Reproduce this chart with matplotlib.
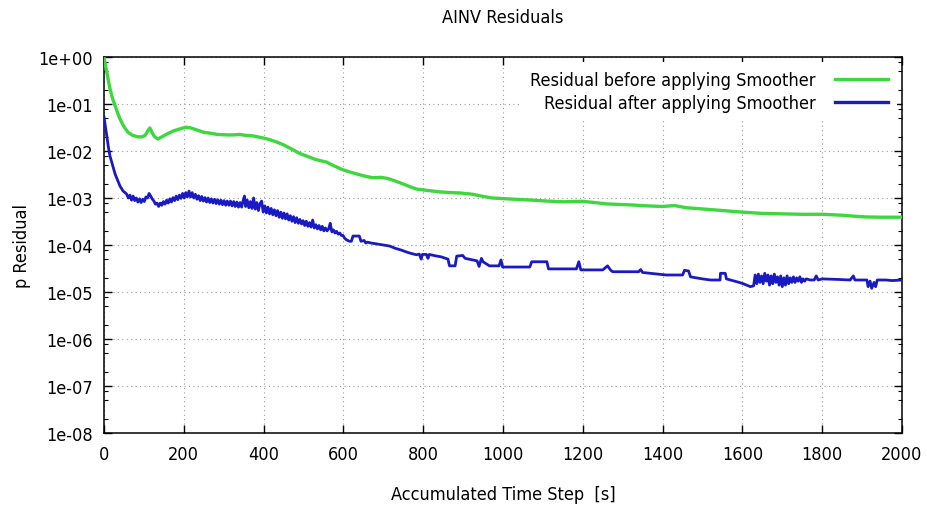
import matplotlib
matplotlib.use("Agg")
import matplotlib.pyplot as plt
import matplotlib.font_manager as fm
from matplotlib.ticker import LogLocator, MultipleLocator, NullFormatter, FuncFormatter

# ---------------- data ----------------
green_t = [0, 3, 7, 11, 15, 21, 28, 34, 40, 50, 60, 72, 85, 95, 103, 110, 115, 120,
           127, 135, 145, 158, 175, 190, 205, 215, 233, 250, 265, 285, 308, 325, 340,
           355, 373, 398, 415, 433, 450, 466, 490, 508, 530, 558, 575, 595, 615, 636,
           655, 674, 695, 711, 730, 749, 766, 783, 810, 841, 870, 891, 924, 950, 974,
           1010, 1040, 1074, 1110, 1150, 1175, 1199, 1230, 1259, 1290, 1325, 1360, 1400,
           1430, 1460, 1494, 1540, 1600, 1650, 1700, 1750, 1800, 1850, 1880, 1910, 1950,
           2000]
green_res = [9.5e-1, 7.0e-1, 4.8e-1, 3.1e-1, 2.1e-1, 1.35e-1, 9.1e-2, 6.5e-2, 4.8e-2,
             3.3e-2, 2.5e-2, 2.15e-2, 2.0e-2, 2.0e-2, 2.15e-2, 2.7e-2, 3.1e-2, 2.5e-2,
             2.0e-2, 1.8e-2, 2.0e-2, 2.3e-2, 2.7e-2, 2.95e-2, 3.2e-2, 3.15e-2, 2.8e-2,
             2.5e-2, 2.4e-2, 2.25e-2, 2.2e-2, 2.2e-2, 2.25e-2, 2.15e-2, 2.1e-2, 1.9e-2,
             1.75e-2, 1.55e-2, 1.35e-2, 1.15e-2, 8.9e-3, 7.8e-3, 6.6e-3, 5.8e-3, 4.9e-3,
             4.1e-3, 3.6e-3, 3.2e-3, 2.9e-3, 2.7e-3, 2.75e-3, 2.6e-3, 2.3e-3, 2.0e-3,
             1.75e-3, 1.55e-3, 1.45e-3, 1.35e-3, 1.3e-3, 1.28e-3, 1.2e-3, 1.08e-3, 1.0e-3,
             9.6e-4, 9.3e-4, 9.0e-4, 8.6e-4, 8.3e-4, 8.4e-4, 8.5e-4, 8.0e-4, 7.5e-4,
             7.3e-4, 7.1e-4, 6.8e-4, 6.6e-4, 6.9e-4, 6.2e-4, 5.9e-4, 5.5e-4, 5.0e-4,
             4.7e-4, 4.6e-4, 4.5e-4, 4.5e-4, 4.3e-4, 4.1e-4, 3.95e-4, 3.9e-4, 3.9e-4]

blue_t = [0, 3, 7, 11, 15, 20, 28, 34, 40, 48, 53,
          57, 61, 65, 69, 73, 77, 81, 85, 89, 93, 97, 101, 105, 109, 113, 117, 121,
          125, 129, 133, 137, 141, 145, 149, 153, 157, 161, 165, 169, 173, 177, 181,
          185, 189, 193, 197, 201, 205, 209, 213, 217, 221, 225, 229, 233, 237, 241,
          245, 249, 253, 257, 261, 265, 269, 273, 277, 281, 285, 289, 293, 297, 301,
          305, 309, 313, 317, 321, 325, 329, 333, 337, 341, 345, 349, 352, 355, 359,
          363, 367, 371, 375, 379, 383, 387, 391, 395, 399, 403, 407, 411, 415, 419,
          423, 427, 431, 435, 439, 443, 447, 451, 455, 459, 463, 467, 471, 475, 479,
          483, 487, 491, 495, 499, 503, 507, 511, 515, 519, 523, 527, 531, 535, 539,
          543, 547, 551, 555, 559, 563, 567, 571, 575, 579, 583, 587, 591, 595, 599,
          603, 607, 611, 615, 620, 624, 640, 644, 652, 656, 660, 670, 684, 700, 716,
          730, 745, 758, 770, 783, 790, 795, 798, 808, 812, 815, 830,
          845, 862, 866, 880, 884, 899, 905, 925, 935, 940, 946, 950, 966, 990, 995,
          999, 1067, 1072, 1110, 1114, 1184, 1190, 1195, 1250, 1262, 1270, 1275, 1340,
          1345, 1350, 1409, 1450, 1455, 1465, 1470, 1500, 1520, 1544, 1545, 1557, 1560,
          1592, 1602, 1620, 1628, 1632, 1636, 1640, 1644, 1648, 1652, 1656, 1660, 1664,
          1668, 1672, 1676, 1680, 1684, 1688, 1692, 1696, 1700, 1704, 1708, 1712, 1716,
          1720, 1724, 1728, 1732, 1736, 1740, 1744, 1748, 1752, 1756, 1760, 1770, 1780,
          1785, 1790, 1800, 1840, 1870, 1878, 1882, 1912, 1915, 1920, 1924, 1930, 1934,
          1938, 1960, 1975, 2000]
blue_res = [5.3e-2, 3.5e-2, 2.1e-2, 1.2e-2, 7.8e-3, 5.5e-3, 3.2e-3, 2.4e-3, 1.8e-3,
            1.4e-3, 1.3e-3,
            1.2e-3, 1.0e-3, 1.15e-3, 9.0e-4, 1.1e-3, 8.8e-4, 1.0e-3, 8.2e-4, 9.6e-4,
            8.0e-4, 9.4e-4, 8.4e-4, 1.05e-3, 1.0e-3, 1.25e-3, 1.1e-3, 9.5e-4, 8.6e-4,
            7.4e-4, 7.8e-4, 6.6e-4, 7.8e-4, 7.0e-4, 8.4e-4, 7.4e-4, 9.0e-4, 7.8e-4,
            9.6e-4, 8.2e-4, 1.02e-3, 8.8e-4, 1.1e-3, 9.2e-4, 1.15e-3, 9.8e-4, 1.25e-3,
            1.0e-3, 1.3e-3, 1.05e-3, 1.4e-3, 1.05e-3, 1.3e-3, 1.0e-3, 1.2e-3, 9.4e-4,
            1.12e-3, 8.8e-4, 1.08e-3, 8.6e-4, 1.02e-3, 8.2e-4, 1.0e-3, 8.0e-4, 9.6e-4,
            7.8e-4, 9.4e-4, 7.6e-4, 9.2e-4, 7.4e-4, 9.0e-4, 7.2e-4, 8.8e-4, 7.0e-4,
            8.6e-4, 7.0e-4, 8.6e-4, 6.8e-4, 8.4e-4, 6.6e-4, 8.2e-4, 6.4e-4, 8.0e-4,
            6.4e-4, 9.0e-4, 1.1e-3, 6.6e-4, 9.0e-4, 6.2e-4, 8.4e-4, 6.0e-4, 1.0e-3,
            5.8e-4, 8.0e-4, 5.4e-4, 7.6e-4, 8.6e-4, 5.0e-4, 6.8e-4, 4.8e-4, 6.4e-4,
            4.6e-4, 6.0e-4, 4.4e-4, 5.6e-4, 4.2e-4, 5.4e-4, 3.9e-4, 5.0e-4, 3.7e-4,
            4.8e-4, 3.6e-4, 4.6e-4, 3.4e-4, 4.2e-4, 3.2e-4, 4.0e-4, 3.0e-4, 3.8e-4,
            2.9e-4, 3.5e-4, 2.8e-4, 3.3e-4, 2.6e-4, 3.2e-4, 2.5e-4, 3.0e-4, 2.4e-4,
            3.4e-4, 2.3e-4, 2.7e-4, 2.2e-4, 2.6e-4, 2.1e-4, 2.5e-4, 2.0e-4, 2.3e-4,
            2.0e-4, 2.2e-4, 2.9e-4, 1.9e-4, 2.1e-4, 1.8e-4, 1.95e-4, 1.7e-4, 1.8e-4,
            1.6e-4, 1.6e-4, 1.4e-4, 1.3e-4, 1.25e-4, 1.2e-4, 1.2e-4, 1.55e-4, 1.55e-4,
            1.2e-4, 1.25e-4, 1.1e-4, 1.15e-4, 1.1e-4, 1.05e-4, 1.0e-4, 9.5e-5,
            8.5e-5, 7.8e-5, 7.1e-5, 6.6e-5, 6.2e-5, 6.4e-5, 5.0e-5, 6.3e-5,
            6.3e-5, 5.2e-5, 6.3e-5, 5.9e-5, 5.6e-5, 5.0e-5, 3.6e-5, 3.6e-5, 5.8e-5,
            6.0e-5, 5.2e-5, 4.8e-5, 4.6e-5, 3.5e-5, 5.2e-5, 4.4e-5, 3.6e-5, 3.6e-5,
            4.8e-5, 3.4e-5, 3.4e-5, 4.4e-5, 4.4e-5, 3.1e-5, 3.1e-5, 4.4e-5, 2.95e-5,
            2.95e-5, 3.6e-5, 2.9e-5, 2.7e-5, 2.7e-5, 3.0e-5, 2.6e-5, 2.3e-5, 2.3e-5,
            2.9e-5, 2.8e-5, 2.1e-5, 1.9e-5, 1.8e-5, 1.8e-5, 2.5e-5, 2.5e-5, 1.9e-5,
            1.6e-5, 1.5e-5, 1.3e-5, 1.35e-5, 2.3e-5, 1.5e-5, 2.4e-5, 1.6e-5, 2.2e-5,
            1.5e-5, 2.5e-5, 1.7e-5, 2.3e-5, 1.4e-5, 2.2e-5, 1.5e-5, 2.4e-5, 1.6e-5,
            2.1e-5, 1.4e-5, 2.2e-5, 1.3e-5, 2.0e-5, 1.4e-5, 2.2e-5, 1.5e-5, 2.0e-5,
            1.6e-5, 2.1e-5, 1.6e-5, 2.0e-5, 1.7e-5, 2.1e-5, 1.6e-5, 1.9e-5, 1.7e-5,
            1.9e-5, 1.8e-5, 1.8e-5, 2.2e-5, 1.8e-5, 1.9e-5, 1.85e-5, 1.8e-5, 2.2e-5,
            1.8e-5, 1.8e-5, 1.3e-5, 1.7e-5, 1.2e-5, 1.6e-5, 1.3e-5, 1.8e-5, 1.8e-5,
            1.75e-5, 1.8e-5]

labels = ["Residual before applying Smoother", "Residual after applying Smoother"]
colors = ["#3dd83d", "#1a1ac4"]

# ---------------- font: condensed DejaVu if it is there ----------------
cond = [f for f in fm.fontManager.ttflist if f.fname.endswith("DejaVuSansCondensed.ttf")]
if cond:
    plt.rcParams["font.family"] = cond[0].name
    plt.rcParams["font.stretch"] = cond[0].stretch
    fs = 13
else:
    plt.rcParams["font.family"] = "DejaVu Sans"
    fs = 12

fig = plt.figure(figsize=(9.28, 5.06), dpi=100)
ax = fig.add_axes([104 / 928, 1 - 434 / 506, (902 - 104) / 928, (434 - 58) / 506])

ax.plot(green_t, green_res, color=colors[0], lw=2.4, label=labels[0], zorder=3)
ax.plot(blue_t, blue_res, color=colors[1], lw=2.0, label=labels[1], zorder=3)

ax.set_yscale("log")
ax.set_xlim(0, 2000)
ax.set_ylim(1e-8, 1)

ax.xaxis.set_major_locator(MultipleLocator(200))
ax.yaxis.set_major_locator(LogLocator(base=10, numticks=20))
ax.yaxis.set_minor_locator(LogLocator(base=10, subs=(2, 5, 8), numticks=20))
ax.yaxis.set_minor_formatter(NullFormatter())
ax.yaxis.set_major_formatter(FuncFormatter(lambda v, p: "%.0e" % v))

ax.tick_params(which="both", direction="in", top=True, right=True, labelsize=fs, colors="black")
ax.tick_params(which="major", length=6, width=1)
ax.tick_params(which="minor", length=3, width=0.8)
ax.tick_params(axis="y", pad=8)
ax.tick_params(axis="x", pad=9)
for s in ax.spines.values():
    s.set_linewidth(1.1)
    s.set_color("black")

ax.grid(True, which="major", color="#9a9a9a", linestyle=(0, (1, 3)), linewidth=0.8, zorder=1)

leg = ax.legend(loc="upper right", markerfirst=False, frameon=True, fancybox=False,
                fontsize=fs, handlelength=2.9, handletextpad=1.1, labelspacing=0.25,
                borderaxespad=0.3, borderpad=0.5)
leg.get_frame().set_facecolor("white")
leg.get_frame().set_edgecolor("none")
leg.get_frame().set_alpha(1)
for ln in leg.get_lines():
    ln.set_linewidth(2.4)

fig.text(503 / 928, 1 - 18 / 506, "AINV Residuals", ha="center", va="center", fontsize=fs)
fig.text(503 / 928, 1 - 495 / 506, "Accumulated Time Step  [s]", ha="center", va="center", fontsize=fs)
fig.text(22 / 928, 1 - 246 / 506, "p Residual", ha="center", va="center", rotation=90, fontsize=fs)

fig.savefig("out.png", dpi=100)
